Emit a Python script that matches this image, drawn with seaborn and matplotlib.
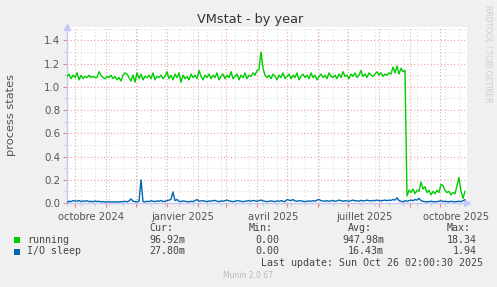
import numpy as np
import pandas as pd
import matplotlib
matplotlib.use("Agg")
import matplotlib.pyplot as plt
import matplotlib.dates as mdates
import matplotlib.transforms as mtransforms
from matplotlib.patches import Rectangle
import seaborn as sns

# ---------------- data ----------------
start_date = "2024-09-23"
step_days = 2

running = [
    1.09, 1.11, 1.07, 1.10, 1.08, 1.12, 1.06, 1.10, 1.07, 1.09,
    1.08, 1.10, 1.08, 1.09, 1.08, 1.08, 1.13, 1.10, 1.08, 1.07,
    1.09, 1.08, 1.10, 1.07, 1.09, 1.06, 1.08, 1.05, 1.10, 1.12,
    1.11, 1.08, 1.05, 1.10, 1.04, 1.12, 1.07, 1.11, 1.06, 1.09,
    1.08, 1.10, 1.07, 1.12, 1.06, 1.09, 1.08, 1.10, 1.07, 1.09,
    1.13, 1.07, 1.10, 1.06, 1.11, 1.08, 1.12, 1.04, 1.10, 1.07,
    1.09, 1.06, 1.11, 1.08, 1.10, 1.07, 1.14, 1.09, 1.06, 1.10,
    1.08, 1.11, 1.07, 1.10, 1.08, 1.12, 1.06, 1.09, 1.11, 1.07,
    1.10, 1.08, 1.13, 1.07, 1.09, 1.11, 1.06, 1.10, 1.08, 1.12,
    1.07, 1.10, 1.09, 1.12, 1.10, 1.14, 1.15, 1.30, 1.16, 1.10,
    1.08, 1.10, 1.07, 1.11, 1.09, 1.06, 1.10, 1.08, 1.12, 1.07,
    1.09, 1.11, 1.07, 1.10, 1.08, 1.12, 1.06, 1.09, 1.11, 1.08,
    1.10, 1.07, 1.12, 1.08, 1.10, 1.06, 1.09, 1.11, 1.08, 1.10,
    1.07, 1.12, 1.09, 1.08, 1.10, 1.07, 1.11, 1.08, 1.13, 1.09,
    1.10, 1.07, 1.11, 1.09, 1.12, 1.08, 1.10, 1.14, 1.09, 1.11,
    1.08, 1.12, 1.10, 1.09, 1.11, 1.13, 1.10, 1.12, 1.09, 1.11,
    1.10, 1.12, 1.11, 1.17, 1.12, 1.18, 1.11, 1.16, 1.13, 1.14,
    0.06, 0.11, 0.09, 0.12, 0.08, 0.11, 0.10, 0.18, 0.12, 0.14,
    0.09, 0.11, 0.07, 0.10, 0.08, 0.11, 0.09, 0.16, 0.15, 0.11,
    0.09, 0.10, 0.07, 0.09, 0.08, 0.15, 0.22, 0.10, 0.04, 0.10,
]

io_sleep = [
    0.005, 0.015, 0.012, 0.020, 0.018, 0.015, 0.022, 0.012, 0.018, 0.015,
    0.020, 0.012, 0.015, 0.010, 0.018, 0.012, 0.015, 0.010, 0.012, 0.008,
    0.010, 0.012, 0.008, 0.010, 0.009, 0.011, 0.008, 0.010, 0.012, 0.015,
    0.010, 0.018, 0.035, 0.015, 0.012, 0.010, 0.015, 0.200, 0.012, 0.010,
    0.015, 0.012, 0.020, 0.015, 0.012, 0.018, 0.015, 0.022, 0.012, 0.015,
    0.020, 0.025, 0.030, 0.095, 0.020, 0.030, 0.015, 0.012, 0.018, 0.015,
    0.012, 0.010, 0.015, 0.012, 0.020, 0.030, 0.015, 0.018, 0.020, 0.015,
    0.012, 0.018, 0.015, 0.020, 0.022, 0.015, 0.012, 0.018, 0.015, 0.020,
    0.025, 0.018, 0.015, 0.012, 0.015, 0.020, 0.018, 0.015, 0.012, 0.015,
    0.018, 0.020, 0.015, 0.022, 0.018, 0.015, 0.020, 0.025, 0.018, 0.015,
    0.012, 0.015, 0.018, 0.015, 0.012, 0.018, 0.015, 0.020, 0.015, 0.012,
    0.030, 0.025, 0.020, 0.030, 0.018, 0.015, 0.020, 0.018, 0.015, 0.012,
    0.015, 0.018, 0.015, 0.020, 0.015, 0.025, 0.030, 0.020, 0.018, 0.015,
    0.020, 0.015, 0.018, 0.022, 0.015, 0.018, 0.025, 0.020, 0.015, 0.020,
    0.018, 0.015, 0.020, 0.025, 0.018, 0.020, 0.015, 0.022, 0.018, 0.020,
    0.025, 0.020, 0.018, 0.022, 0.020, 0.025, 0.020, 0.018, 0.022, 0.025,
    0.020, 0.025, 0.022, 0.030, 0.025, 0.045, 0.020, 0.015, 0.010, 0.020,
    0.015, 0.020, 0.025, 0.020, 0.030, 0.025, 0.040, 0.020, 0.015, 0.012,
    0.010, 0.012, 0.015, 0.012, 0.010, 0.012, 0.015, 0.020, 0.012, 0.015,
    0.012, 0.010, 0.015, 0.012, 0.010, 0.012, 0.015, 0.012, 0.020, 0.028,
]

series_names = ["running", "I/O sleep"]
series_colors = ["#00CC00", "#0066B3"]
stat_headers = ["Cur:", "Min:", "Avg:", "Max:"]
stats_running = ["96.92m", "0.00", "947.98m", "18.34"]
stats_io = ["27.80m", "0.00", "16.43m", "1.94"]
x_tick_labels = ["octobre 2024", "janvier 2025", "avril 2025", "juillet 2025", "octobre 2025"]
x_tick_months = ["2024-10-01", "2025-01-01", "2025-04-01", "2025-07-01", "2025-10-01"]

dates = pd.date_range(start_date, periods=len(running), freq=f"{step_days}D")
df = pd.DataFrame({
    "date": list(dates) * 2,
    "value": running + io_sleep,
    "series": [series_names[0]] * len(running) + [series_names[1]] * len(io_sleep),
})

# ---------------- figure ----------------
W, H = 497, 287
fig = plt.figure(figsize=(W / 100, H / 100), dpi=100, facecolor="#F0F0F0")
ax = fig.add_axes([67 / W, 1 - 203 / H, 400 / W, 176 / H])
ax.set_facecolor("white")

sns.lineplot(data=df, x="date", y="value", hue="series", palette=series_colors,
             hue_order=series_names, ax=ax, linewidth=1.0, legend=False, zorder=5)

ax.set_xlim(pd.Timestamp("2024-09-23"), pd.Timestamp("2025-10-28"))
ax.set_ylim(0, 1.515)

# grid
ax.xaxis.set_major_locator(mdates.MonthLocator())
ax.xaxis.set_minor_locator(mdates.WeekdayLocator(byweekday=mdates.MO, interval=2))
ax.xaxis.set_major_formatter(plt.NullFormatter())
ax.yaxis.set_major_locator(plt.MultipleLocator(0.2))
ax.yaxis.set_minor_locator(plt.MultipleLocator(0.1))
ax.yaxis.set_major_formatter(plt.FuncFormatter(lambda v, p: f"{v:.1f}"))

ax.grid(which="minor", color="#DDDDDD", linestyle=(0, (1, 2)), linewidth=0.8)
ax.grid(which="major", color="#F0A0A0", linestyle=(0, (1, 2)), linewidth=0.8)
ax.set_axisbelow(True)

ax.tick_params(axis="both", which="major", length=3, color="#F08080", width=0.8,
               labelsize=7.4, labelcolor="#555555", pad=2)
ax.tick_params(axis="both", which="minor", length=2, color="#CCCCCC", width=0.8)

for s in ["top", "right"]:
    ax.spines[s].set_visible(False)
for s in ["left", "bottom"]:
    ax.spines[s].set_color("#C8C8F8")
    ax.spines[s].set_linewidth(1.0)

ax.set_xlabel("")
ax.set_ylabel("")

# x labels at mid-month positions
trans = mtransforms.blended_transform_factory(ax.transData, ax.transAxes)
for lab, m in zip(x_tick_labels, x_tick_months):
    pos = pd.Timestamp(m) + pd.Timedelta(days=16)
    ax.text(mdates.date2num(pos), -0.05, lab, transform=trans, ha="center", va="top",
            fontsize=7.2, color="#555555")

# axis arrows
ax.plot([0], [1.0], marker="^", markersize=4, color="#C8C8F8", transform=ax.transAxes, clip_on=False)
ax.plot([1.0], [0], marker=">", markersize=4, color="#C8C8F8", transform=ax.transAxes, clip_on=False)

def ft(x, y, s, **kw):
    fig.text(x / W, 1 - y / H, s, **kw)

ft(250, 19, "VMstat - by year", ha="center", va="center", fontsize=9.3, color="#333333")
ft(11, 115, "process states", ha="center", va="center", rotation=90, fontsize=8.2, color="#555555")
ft(488, 5, "RRDTOOL / TOBI OETIKER", ha="center", va="top", rotation=270, fontsize=5.5, color="#CCCCCC")

mono = dict(family="DejaVu Sans Mono", fontsize=7.2, color="#444444", va="center")
header_left = [149, 249, 348, 447]
value_right = [185, 279, 384, 477]
for h, xl in zip(stat_headers, header_left):
    ft(xl, 228, h, ha="left", **mono)
for row_y, name, color, stats in [(240, series_names[0], series_colors[0], stats_running),
                                  (251.5, series_names[1], series_colors[1], stats_io)]:
    fig.patches.append(Rectangle((14 / W, 1 - (row_y + 3) / H), 6 / W, 6 / H,
                                 transform=fig.transFigure, facecolor=color, edgecolor="none"))
    ft(27, row_y, name, ha="left", **mono)
    for v, xr in zip(stats, value_right):
        ft(xr, row_y, v, ha="right", **mono)

ft(483, 263, "Last update: Sun Oct 26 02:00:30 2025", ha="right", **mono)
ft(248, 276, "Munin 2.0.67", ha="center", va="center", fontsize=5.5, color="#BBBBBB")

fig.savefig("out.png", dpi=100, facecolor=fig.get_facecolor())
